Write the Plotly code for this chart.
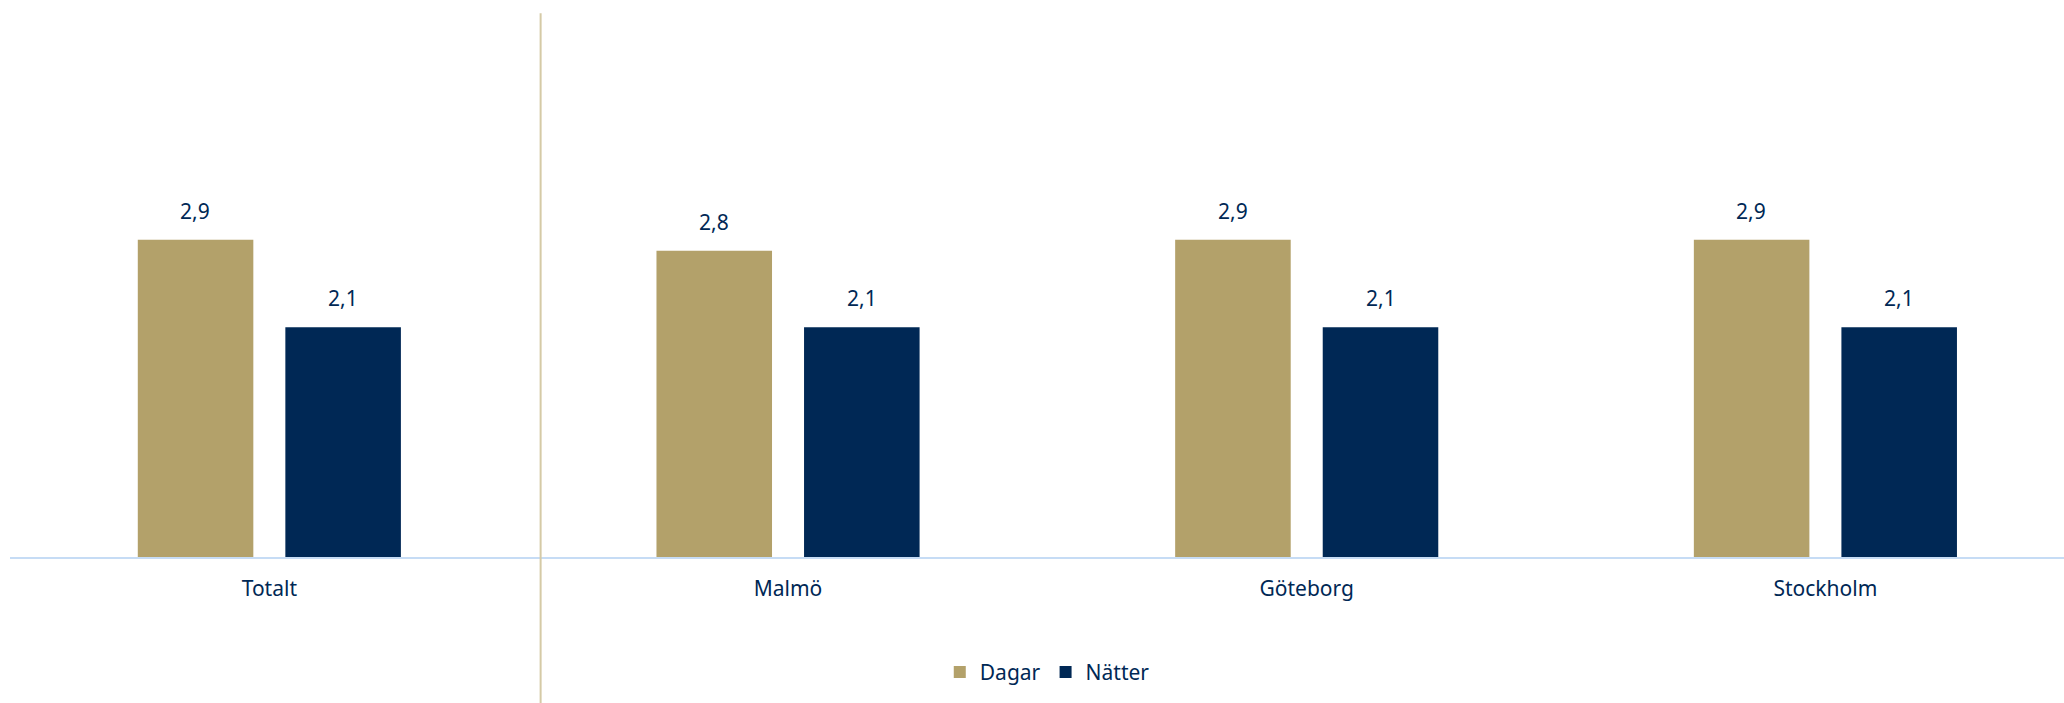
import plotly.graph_objects as go

categories = ["Totalt", "Malmö", "Göteborg", "Stockholm"]
dagar = [2.9, 2.8, 2.9, 2.9]
natter = [2.1, 2.1, 2.1, 2.1]
series_names = ["Dagar", "Nätter"]

TAN = "#B3A16A"
NAVY = "#002855"
FONT = "Noto Sans"
FS = 21

fig = go.Figure()
fig.add_trace(go.Bar(x=categories, y=dagar, name=series_names[0], marker_color=TAN,
                     marker_line_width=0))
fig.add_trace(go.Bar(x=categories, y=natter, name=series_names[1], marker_color=NAVY,
                     marker_line_width=0))

# value labels
for vals, shift in ((dagar, -74), (natter, 74)):
    for c, v in zip(categories, vals):
        fig.add_annotation(x=c, y=v, text=f"{v:.1f}".replace(".", ","), showarrow=False,
                           xshift=shift, yshift=13, yanchor="bottom",
                           font=dict(family=FONT, size=FS, color=NAVY))

# separator line between Totalt and cities
fig.add_shape(type="line", xref="x", yref="paper", x0=0.523, x1=0.523, y0=-0.27, y1=0.994,
              line=dict(color="#D5CAA6", width=2))

fig.update_layout(
    width=2064, height=703,
    margin=dict(l=10, r=0, t=10, b=146),
    plot_bgcolor="white", paper_bgcolor="white",
    barmode="group", bargap=0.431, bargroupgap=0.217,
    font=dict(family=FONT, size=FS, color=NAVY),
    showlegend=True,
    legend=dict(orientation="h", x=0.505, xanchor="center", y=-0.211, yanchor="middle",
                font=dict(family=FONT, size=FS, color=NAVY), itemwidth=30,
                traceorder="normal"),
)
fig.update_xaxes(range=[-0.5, 3.46], showline=True, linecolor="#C6DCF5", linewidth=2,
                 ticks="", showgrid=False, ticklabelstandoff=12,
                 tickfont=dict(family=FONT, size=FS, color=NAVY))
fig.update_yaxes(range=[0, 5], visible=False, showgrid=False, zeroline=False)

fig.write_html("out.html", config={"displayModeBar": False},
               post_script="document.body.style.margin='0';document.body.style.overflow='hidden';")
